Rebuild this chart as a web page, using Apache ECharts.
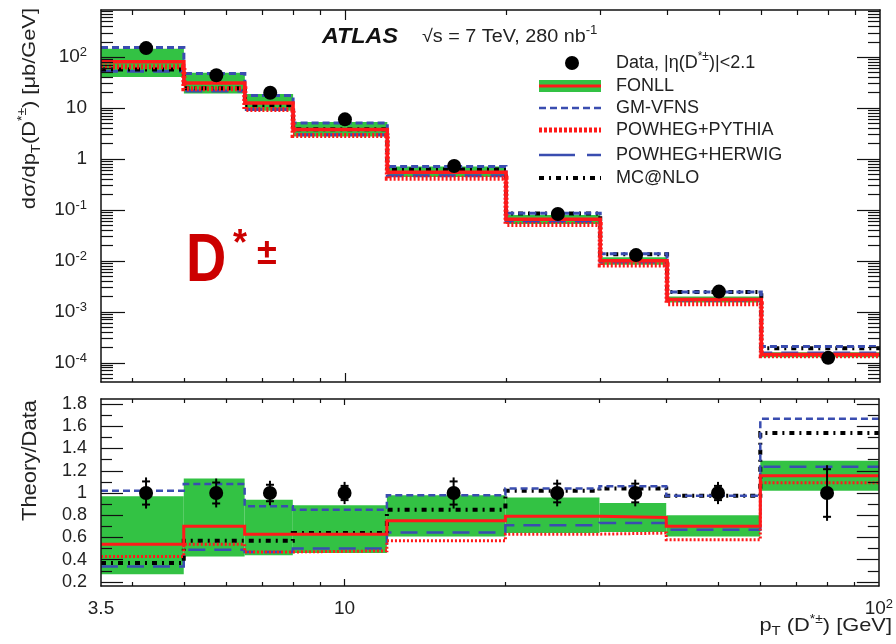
<!DOCTYPE html>
<html><head><meta charset="utf-8">
<script src="https://cdn.jsdelivr.net/npm/echarts@6/dist/echarts.min.js"></script>
<style>html,body{margin:0;padding:0;background:#fff}#c{width:896px;height:644px}</style>
</head><body><div id="c"></div>
<script>
// ---- data ----
const edges   = [3.5, 5, 6.5, 8, 12, 20, 30, 40, 60, 100];
const centers = [4.25, 5.75, 7.25, 10, 16, 25, 35, 50, 80];
// top panel: d sigma / d pT [ub/GeV]
const dataXsec   = [150, 44, 20, 6.0, 0.73, 0.083, 0.013, 0.0025, 1.25e-4];
const fonllXsec  = [81, 31, 12.6, 3.8, 0.55, 0.066, 0.0101, 0.00175, 1.45e-4];
const fonllXsecHi= [146, 49.5, 18.8, 5.3, 0.715, 0.080, 0.0118, 0.0020, 1.61e-4];
const fonllXsecLo= [40.5, 19.4, 8.8, 2.76, 0.445, 0.053, 0.00845, 0.00153, 1.28e-4];
const gmvfnsXsec = [154, 47.4, 17.6, 5.1, 0.715, 0.086, 0.0138, 0.00244, 2.08e-4];
const pythiaXsec = [64.5, 23.8, 9.4, 2.88, 0.42, 0.052, 0.0083, 0.00145, 1.37e-4];
const herwigXsec = [52.5, 21.6, 9.4, 3.0, 0.47, 0.059, 0.0095, 0.00168, 1.55e-4];
const mcnloXsec  = [57, 24.6, 11.4, 3.84, 0.62, 0.085, 0.0135, 0.00244, 1.93e-4];
// bottom panel: theory / data
const ratioData   = [1, 1, 1, 1, 1, 1, 1, 1, 1];
const ratioErr    = [0.14, 0.13, 0.11, 0.10, 0.14, 0.12, 0.12, 0.10, 0.25];
const ratioFonll  = [0.54, 0.70, 0.63, 0.63, 0.75, 0.79, 0.78, 0.70, 1.156];
const ratioFonllHi= [0.97, 1.13, 0.94, 0.89, 0.98, 0.96, 0.91, 0.80, 1.29];
const ratioFonllLo= [0.27, 0.43, 0.44, 0.46, 0.61, 0.64, 0.65, 0.61, 1.02];
const ratioGmvfns = [1.02, 1.08, 0.88, 0.85, 0.98, 1.04, 1.06, 0.975, 1.667];
const ratioPythia = [0.43, 0.54, 0.47, 0.48, 0.57, 0.63, 0.64, 0.58, 1.093];
const ratioHerwig = [0.34, 0.49, 0.47, 0.50, 0.646, 0.71, 0.73, 0.67, 1.237];
const ratioMcnlo  = [0.37, 0.57, 0.57, 0.64, 0.85, 1.02, 1.04, 0.975, 1.54];
// tick labels
const xTickLabels = [3.5, 10, 100];
const yLogLabels  = [1e-4, 1e-3, 1e-2, 1e-1, 1, 10, 100];
const yRatioLabels= [0.2, 0.4, 0.6, 0.8, 1.0, 1.2, 1.4, 1.6, 1.8];
const legendNames = ['Data, |\u03b7(D{sup|*\u00b1})|<2.1', 'FONLL', 'GM-VFNS', 'POWHEG+PYTHIA', 'POWHEG+HERWIG', 'MC@NLO'];

// ---- styling ----
const FONT = '"Liberation Sans", Arial, Helvetica, sans-serif';
const GREEN = '#33c244', RED = '#ff1a1a', BLUE = '#3a4db0', BLACK = '#000';
const LOGMIN = 4.2e-5, LOGMAX = 840, RMIN = 0.164, RMAX = 1.845;

const xMinor = [4, 5, 6, 7, 8, 9, 20, 30, 40, 50, 60, 70, 80, 90];
const xMajor = [10];
const yLogMinor = [];
for (let e = -5; e <= 2; e++) for (let k = 2; k <= 9; k++) {
  const v = k * Math.pow(10, e);
  if (v > LOGMIN && v < LOGMAX) yLogMinor.push(v);
}
const yRatioMinor = [0.3, 0.5, 0.7, 0.9, 1.1, 1.3, 1.5, 1.7];

const chart = echarts.init(document.getElementById('c'), null, {renderer: 'canvas', width: 896, height: 644});

const axisLine = show => ({show, onZero: false, lineStyle: {color: '#111', width: 1.5}});
const tickStyle = {color: '#111', width: 1.2};

function axX(grid, pos, ticks, len, line, labels) {
  return {
    type: 'log', logBase: 10, gridIndex: grid, position: pos, min: 3.5, max: 100, z: 10,
    axisLine: axisLine(line),
    axisTick: {show: true, inside: true, length: len, customValues: ticks, lineStyle: tickStyle},
    axisLabel: labels ? {
      show: true, customValues: xTickLabels, margin: 12, color: '#222',
      fontFamily: FONT, fontSize: 19, lineHeight: 22,
      formatter: v => v > 50 ? '10{sup|2}' : (v > 5 ? '10' : '3.5'),
      rich: {sup: {fontFamily: FONT, fontSize: 13, lineHeight: 12, verticalAlign: 'top', color: '#222'}}
    } : {show: false},
    splitLine: {show: false}, minorTick: {show: false}, minorSplitLine: {show: false}
  };
}
function axYLog(pos, ticks, len, line, labels) {
  return {
    type: 'log', logBase: 10, gridIndex: 0, position: pos, min: LOGMIN, max: LOGMAX, z: 10,
    axisLine: axisLine(line),
    axisTick: {show: true, inside: true, length: len, customValues: ticks, lineStyle: tickStyle},
    axisLabel: labels ? {
      show: true, customValues: yLogLabels, margin: 14, color: '#222',
      fontFamily: FONT, fontSize: 19, lineHeight: 22,
      formatter: v => {
        const e = Math.round(Math.log10(v));
        if (e === 0) return '1';
        if (e === 1) return '10';
        return '10{sup|' + e + '}';
      },
      rich: {sup: {fontFamily: FONT, fontSize: 13, lineHeight: 12, verticalAlign: 'top', color: '#222'}}
    } : {show: false},
    splitLine: {show: false}, minorTick: {show: false}, minorSplitLine: {show: false}
  };
}
function axYRatio(pos, ticks, len, line, labels) {
  return {
    type: 'value', gridIndex: 1, position: pos, min: RMIN, max: RMAX, z: 10,
    axisLine: axisLine(line),
    axisTick: {show: true, inside: true, length: len, customValues: ticks, lineStyle: tickStyle},
    axisLabel: labels ? {
      show: true, customValues: yRatioLabels, margin: 14, color: '#222',
      fontFamily: FONT, fontSize: 18,
      formatter: v => String(+v.toFixed(1))
    } : {show: false},
    splitLine: {show: false}, minorTick: {show: false}, minorSplitLine: {show: false}
  };
}

const xAxis = [
  axX(0, 'bottom', xMajor, 9, true, false), axX(0, 'bottom', xMinor, 4, false, false),
  axX(0, 'top', xMajor, 10, true, false),   axX(0, 'top', xMinor, 5, false, false),
  axX(1, 'bottom', xMajor, 7, true, true),  axX(1, 'bottom', xMinor, 4, false, false),
  axX(1, 'top', xMajor, 6, true, false),    axX(1, 'top', xMinor, 4, false, false)
];
const yAxis = [
  axYLog('left', yLogLabels, 24, true, true), axYLog('left', yLogMinor, 12, false, false),
  axYLog('right', yLogLabels, 23, true, false), axYLog('right', yLogMinor, 12, false, false),
  axYRatio('left', yRatioLabels, 22, true, true), axYRatio('left', yRatioMinor, 11, false, false),
  axYRatio('right', yRatioLabels, 22, true, false), axYRatio('right', yRatioMinor, 11, false, false)
];

function stepData(vals) { return edges.map((e, i) => [e, vals[Math.min(i, vals.length - 1)]]); }
function bandData(lo, hi) { return lo.map((l, i) => [edges[i], edges[i + 1], l, hi[i]]); }

function band(lo, hi, xi, yi) {
  return {
    type: 'custom', xAxisIndex: xi, yAxisIndex: yi, z: 1, silent: true, clip: true,
    data: bandData(lo, hi), encode: {x: [0, 1], y: [2, 3]},
    renderItem: (p, api) => {
      const a = api.coord([api.value(0), api.value(3)]);
      const b = api.coord([api.value(1), api.value(2)]);
      return {type: 'rect', shape: {x: a[0], y: a[1], width: b[0] - a[0], height: b[1] - a[1]},
              style: {fill: GREEN}};
    }
  };
}
function stepLine(vals, xi, yi, color, width, type, z) {
  return {
    type: 'line', xAxisIndex: xi, yAxisIndex: yi, data: stepData(vals), step: 'end',
    symbol: 'none', showSymbol: false, silent: true, z: z, clip: true,
    lineStyle: {color, width, type, cap: 'butt', join: 'miter', opacity: 1}
  };
}
function points(xs, ys, xi, yi) {
  return {
    type: 'scatter', xAxisIndex: xi, yAxisIndex: yi, z: 8, silent: true,
    data: xs.map((x, i) => [x, ys[i]]), symbol: 'circle', symbolSize: 14,
    itemStyle: {color: '#000', opacity: 1}
  };
}
function errBars(xs, ys, es, xi, yi) {
  return {
    type: 'custom', xAxisIndex: xi, yAxisIndex: yi, z: 7, silent: true,
    data: xs.map((x, i) => [x, ys[i], es[i]]), encode: {x: 0, y: 1},
    renderItem: (p, api) => {
      const x = api.value(0), y = api.value(1), e = api.value(2);
      const t = api.coord([x, y + e]), b = api.coord([x, y - e]);
      const st = {stroke: '#000', lineWidth: 2};
      return {type: 'group', children: [
        {type: 'line', shape: {x1: t[0], y1: t[1], x2: b[0], y2: b[1]}, style: st},
        {type: 'line', shape: {x1: t[0] - 4, y1: t[1] + 4, x2: t[0] + 4, y2: t[1] + 4}, style: st},
        {type: 'line', shape: {x1: b[0] - 4, y1: b[1] - 4, x2: b[0] + 4, y2: b[1] - 4}, style: st}
      ]};
    }
  };
}

const DASH = [7, 4], DOT = [2, 2], LONG = [17, 9], DASHDOT = [5, 5, 2, 5];
const series = [
  band(fonllXsecLo, fonllXsecHi, 0, 0),
  stepLine(herwigXsec, 0, 0, BLUE, 3, LONG, 2),
  stepLine(mcnloXsec, 0, 0, BLACK, 4, DASHDOT, 3),
  stepLine(gmvfnsXsec, 0, 0, BLUE, 3, DASH, 4),
  stepLine(fonllXsec, 0, 0, RED, 3.5, 'solid', 5),
  stepLine(pythiaXsec, 0, 0, RED, 5, DOT, 6),
  points(centers, dataXsec, 0, 0),

  band(ratioFonllLo, ratioFonllHi, 4, 4),
  stepLine(ratioHerwig, 4, 4, BLUE, 2.5, LONG, 2),
  stepLine(ratioMcnlo, 4, 4, BLACK, 4, DASHDOT, 3),
  stepLine(ratioGmvfns, 4, 4, BLUE, 2.5, DASH, 4),
  stepLine(ratioFonll, 4, 4, RED, 3, 'solid', 5),
  stepLine(ratioPythia, 4, 4, RED, 3, DOT, 6),
  errBars(centers, ratioData, ratioErr, 4, 4),
  points(centers, ratioData, 4, 4)
];

// ---- decorations (legend, labels) ----
const supRich = {
  sup: {fontFamily: FONT, fontSize: 12, lineHeight: 10, verticalAlign: 'top', fill: '#222'},
  sub: {fontFamily: FONT, fontSize: 13, lineHeight: 8, verticalAlign: 'bottom', fill: '#222'}
};
function txt(x, y, text, size, opts) {
  opts = opts || {};
  return {
    type: 'text', x, y, rotation: opts.rot || 0, scaleX: opts.sx || 1, z: 100, silent: true,
    style: Object.assign({
      text, fontFamily: FONT, fontSize: size, fill: opts.color || '#222',
      align: opts.align || 'left', verticalAlign: 'middle', lineHeight: opts.lh || 24,
      fontWeight: opts.weight || 'normal', fontStyle: opts.style || 'normal', rich: supRich
    }, opts.extra || {})
  };
}
const LX1 = 539, LX2 = 601, LTX = 616;
const legendY = [63, 86, 108, 130, 155, 178];
const graphic = [
  txt(322, 37, 'ATLAS', 22, {weight: 'bold', style: 'italic', sx: 1.06, color: '#111'}),
  txt(422, 37, '\u221as = 7 TeV, 280 nb{sup|-1}', 18, {sx: 1.1}),
  // legend
  {type: 'circle', shape: {cx: 572, cy: legendY[0], r: 7}, style: {fill: '#000'}, z: 100},
  {type: 'rect', shape: {x: LX1, y: legendY[1] - 6, width: LX2 - LX1, height: 12}, style: {fill: GREEN}, z: 100},
  {type: 'line', shape: {x1: LX1, y1: legendY[1], x2: LX2, y2: legendY[1]}, style: {stroke: RED, lineWidth: 3}, z: 101},
  {type: 'line', shape: {x1: LX1, y1: legendY[2], x2: LX2, y2: legendY[2]}, style: {stroke: BLUE, lineWidth: 2.5, lineDash: DASH}, z: 100},
  {type: 'line', shape: {x1: LX1, y1: legendY[3], x2: LX2, y2: legendY[3]}, style: {stroke: RED, lineWidth: 5, lineDash: [3, 2]}, z: 100},
  {type: 'line', shape: {x1: LX1, y1: legendY[4], x2: LX2, y2: legendY[4]}, style: {stroke: BLUE, lineWidth: 2.5, lineDash: [36, 12]}, z: 100},
  {type: 'line', shape: {x1: LX1, y1: legendY[5], x2: LX2, y2: legendY[5]}, style: {stroke: BLACK, lineWidth: 4, lineDash: DASHDOT}, z: 100},
  ...legendNames.map((n, i) => txt(LTX, legendY[i], n, 18)),
  // big D*±
  txt(186, 262, 'D', 68, {weight: 'bold', color: '#cc0000', sx: 0.82}),
  txt(240, 245, '*', 36, {weight: 'bold', color: '#cc0000', align: 'center'}),
  txt(267, 254, '\u00b1', 36, {weight: 'bold', color: '#cc0000', align: 'center'}),
  // axis titles
  txt(30, 8, 'd\u03c3/dp{sub|T}(D{sup|*\u00b1}) [\u03bcb/GeV]', 19, {rot: Math.PI / 2, align: 'right', sx: 1.15, lh: 26}),
  txt(30, 400, 'Theory/Data', 20, {rot: Math.PI / 2, align: 'right', sx: 1.1}),
  txt(892, 626, 'p{sub|T} (D{sup|*\u00b1}) [GeV]', 19, {align: 'right', sx: 1.15})
];

chart.setOption({
  animation: false,
  backgroundColor: '#fff',
  grid: [
    {left: 101, top: 10, width: 779, height: 372, containLabel: false},
    {left: 101, top: 399, width: 779, height: 187, containLabel: false}
  ],
  xAxis, yAxis, series, graphic
});
</script></body></html>
